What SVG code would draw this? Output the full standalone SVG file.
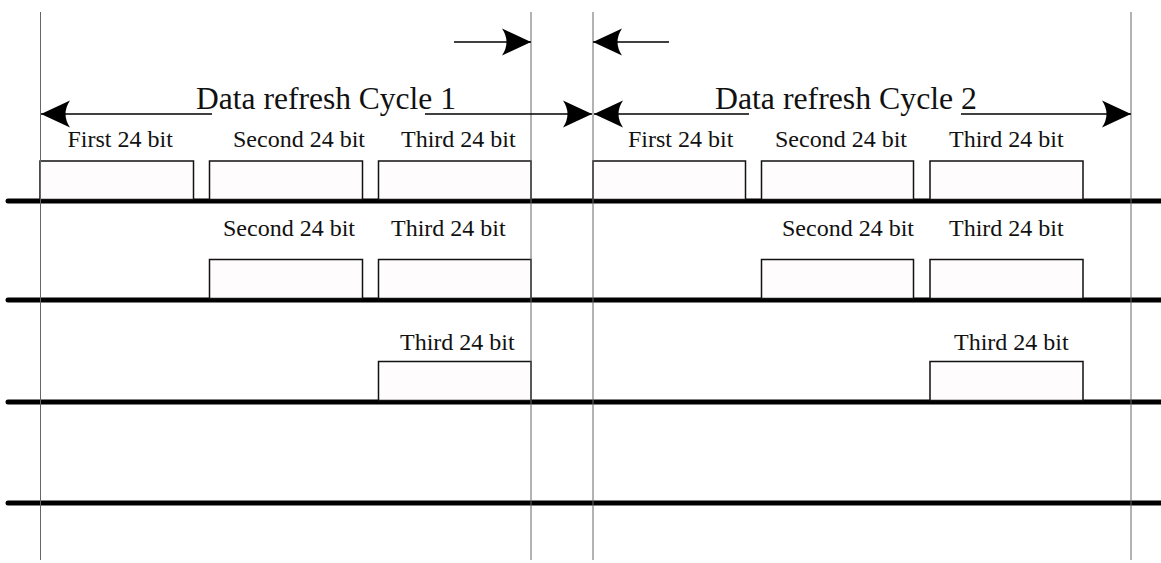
<svg xmlns="http://www.w3.org/2000/svg" width="1161" height="563" viewBox="0 0 1161 563">
<defs>
<style>
.bus{stroke:#000;stroke-width:5;stroke-linecap:round;fill:none}
.grid{stroke:#666;stroke-width:1;fill:none}
.pulse{fill:#fefcfc;stroke:#111;stroke-width:1.5}
.arr{stroke:#000;stroke-width:1.5;fill:none;marker-end:url(#ah)}
.lbl{font-family:"Liberation Serif","Times New Roman",serif;font-size:24px;fill:#111}
.title{font-family:"Liberation Serif","Times New Roman",serif;font-size:32px;fill:#111}
</style>
<marker id="ah" viewBox="-30 -15 31 30" refX="0" refY="0" markerWidth="31" markerHeight="30" markerUnits="userSpaceOnUse" orient="auto">
<path d="M0,0 L-29,-13.5 Q-20,0 -29,13.5 Z" fill="#000"/>
</marker>
</defs>
<rect width="1161" height="563" fill="#fff"/>
<g id="buses">
<line class="bus" x1="8" y1="201" x2="1165" y2="201"/>
<line class="bus" x1="8" y1="300" x2="1165" y2="300"/>
<line class="bus" x1="8" y1="402" x2="1165" y2="402"/>
<line class="bus" x1="8" y1="503" x2="1165" y2="503"/>
</g>
<g id="pulses-row1">
<rect class="pulse" x="40" y="161" width="153.5" height="38.5"/>
<rect class="pulse" x="209.5" y="161" width="153" height="38.5"/>
<rect class="pulse" x="378.5" y="161" width="152.5" height="38.5"/>
<rect class="pulse" x="593" y="161" width="152.5" height="38.5"/>
<rect class="pulse" x="761.5" y="161" width="152" height="38.5"/>
<rect class="pulse" x="930" y="161" width="153" height="38.5"/>
</g>
<g id="pulses-row2">
<rect class="pulse" x="209.5" y="259.5" width="153" height="39"/>
<rect class="pulse" x="378.5" y="259.5" width="152.5" height="39"/>
<rect class="pulse" x="761.5" y="259.5" width="152" height="39"/>
<rect class="pulse" x="930" y="259.5" width="153" height="39"/>
</g>
<g id="pulses-row3">
<rect class="pulse" x="378.5" y="361.5" width="152.5" height="39"/>
<rect class="pulse" x="930" y="361.5" width="153" height="39"/>
</g>
<g id="gridlines">
<line class="grid" x1="40.5" y1="12" x2="40.5" y2="560"/>
<line class="grid" x1="531" y1="12" x2="531" y2="560"/>
<line class="grid" x1="593" y1="12" x2="593" y2="560"/>
<line class="grid" x1="1131" y1="12" x2="1131" y2="560"/>
</g>
<g id="connectors">
<line class="arr" x1="212" y1="114" x2="41" y2="114"/>
<line class="arr" x1="425" y1="114" x2="592" y2="114"/>
<line class="arr" x1="749" y1="114" x2="594" y2="114"/>
<line class="arr" x1="961" y1="114" x2="1131" y2="114"/>
<line class="arr" x1="454" y1="42" x2="531" y2="42"/>
<line class="arr" x1="669" y1="42" x2="593" y2="42"/>
</g>
<g id="titles">
<text class="title" x="196" y="109" textLength="260" lengthAdjust="spacingAndGlyphs">Data refresh Cycle 1</text>
<text class="title" x="715" y="109" textLength="262" lengthAdjust="spacingAndGlyphs">Data refresh Cycle 2</text>
</g>
<g id="labels">
<text class="lbl" x="67.5" y="147">First 24 bit</text>
<text class="lbl" x="233" y="147">Second 24 bit</text>
<text class="lbl" x="401" y="147">Third 24 bit</text>
<text class="lbl" x="628" y="147">First 24 bit</text>
<text class="lbl" x="775" y="147">Second 24 bit</text>
<text class="lbl" x="949" y="147">Third 24 bit</text>
<text class="lbl" x="223" y="236">Second 24 bit</text>
<text class="lbl" x="391" y="236">Third 24 bit</text>
<text class="lbl" x="782" y="236">Second 24 bit</text>
<text class="lbl" x="949" y="236">Third 24 bit</text>
<text class="lbl" x="400" y="350">Third 24 bit</text>
<text class="lbl" x="954" y="350">Third 24 bit</text>
</g>
</svg>
